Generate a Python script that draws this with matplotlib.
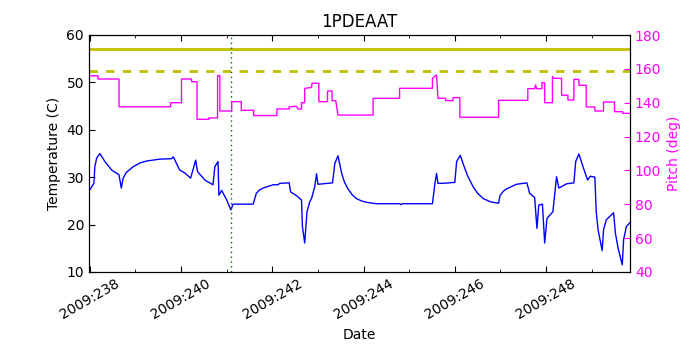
import numpy as np
import matplotlib
matplotlib.use('Agg')
import matplotlib.pyplot as plt
from matplotlib.ticker import MultipleLocator, FuncFormatter

# Time axis is day-of-year 2009 (fractional)
msid = '1PDEAAT'
year = 2009

temp_days = [237.97, 238.09, 238.11, 238.15, 238.22, 238.33, 238.48, 238.64,
             238.69, 238.73, 238.80, 238.95, 239.10, 239.24, 239.53, 239.79,
             239.83, 239.97, 240.08, 240.21, 240.32, 240.36, 240.52, 240.70,
             240.74, 240.81, 240.83, 240.89, 241.00, 241.09, 241.14, 241.58,
             241.65, 241.72, 241.80, 242.02, 242.13, 242.16, 242.37, 242.40,
             242.53, 242.64, 242.66, 242.71, 242.76, 242.82, 242.86, 242.93,
             242.97, 243.00, 243.11, 243.32, 243.37, 243.44, 243.52, 243.58,
             243.66, 243.75, 243.84, 243.95, 244.06, 244.28, 244.79, 244.82,
             244.85, 245.51, 245.56, 245.60, 245.63, 245.74, 246.00, 246.04,
             246.12, 246.18, 246.28, 246.40, 246.50, 246.62, 246.78, 246.96,
             246.99, 247.06, 247.13, 247.35, 247.58, 247.64, 247.75, 247.80,
             247.84, 247.92, 247.97, 248.02, 248.15, 248.23, 248.28, 248.45,
             248.61, 248.65, 248.72, 248.81, 248.91, 248.97, 249.07, 249.10,
             249.14, 249.23, 249.26, 249.32, 249.48, 249.52, 249.58, 249.67,
             249.70, 249.76, 249.84]
temp_vals = [26.9, 28.7, 32.2, 34.0, 35.0, 33.3, 31.5, 30.5,
             27.7, 29.8, 31.0, 32.2, 33.0, 33.4, 33.8, 33.9,
             34.3, 31.5, 30.9, 29.8, 33.6, 31.2, 29.4, 28.4,
             32.2, 33.3, 26.2, 27.2, 25.2, 23.1, 24.3, 24.3,
             26.6, 27.3, 27.7, 28.4, 28.4, 28.7, 28.8, 26.9,
             26.1, 25.2, 19.6, 16.1, 22.7, 24.8, 25.5, 28.0,
             30.7, 28.5, 28.6, 28.8, 32.9, 34.5, 30.8, 29.0,
             27.5, 26.3, 25.5, 25.0, 24.7, 24.4, 24.4, 24.2,
             24.4, 24.4, 28.4, 30.8, 28.7, 28.7, 28.9, 33.3,
             34.6, 32.9, 30.3, 28.0, 26.6, 25.5, 24.8, 24.5,
             26.1, 27.0, 27.5, 28.5, 28.8, 26.6, 25.7, 19.2,
             24.1, 24.3, 16.1, 21.3, 22.7, 30.1, 27.7, 28.6,
             28.8, 33.3, 34.9, 32.2, 29.4, 30.2, 30.0, 22.7,
             18.9, 14.5, 18.9, 21.0, 22.5, 18.2, 15.0, 11.5,
             16.8, 19.6, 20.4]

pitch_days = [237.97, 238.18, 238.18, 238.64, 238.64, 239.77, 239.77, 240.01,
              240.01, 240.23, 240.23, 240.35, 240.35, 240.61, 240.61, 240.80,
              240.80, 240.85, 240.85, 241.11, 241.11, 241.32, 241.32, 241.59,
              241.59, 242.10, 242.10, 242.37, 242.37, 242.53, 242.56, 242.64,
              242.64, 242.71, 242.71, 242.86, 242.87, 243.02, 243.02, 243.21,
              243.21, 243.31, 243.31, 243.39, 243.44, 244.21, 244.21, 244.79,
              244.79, 245.51, 245.51, 245.60, 245.63, 245.80, 245.80, 245.96,
              245.96, 246.11, 246.11, 246.96, 246.96, 247.60, 247.60, 247.75,
              247.77, 247.79, 247.91, 247.91, 247.97, 247.97, 248.14, 248.14,
              248.17, 248.34, 248.34, 248.48, 248.48, 248.61, 248.61, 248.72,
              248.72, 248.88, 248.88, 249.07, 249.07, 249.26, 249.26, 249.50,
              249.50, 249.68, 249.68, 249.84]
pitch_vals = [155.9, 155.9, 154.0, 154.0, 137.6, 137.6, 140.0, 140.0,
              154.0, 154.0, 152.4, 152.4, 130.2, 130.2, 131.0, 131.0,
              156.0, 156.0, 135.1, 135.1, 140.6, 140.6, 135.5, 135.5,
              132.4, 132.4, 136.3, 136.3, 137.6, 137.9, 136.3, 136.3,
              140.0, 140.0, 148.5, 149.0, 151.5, 151.5, 140.6, 140.6,
              146.9, 146.9, 141.2, 141.2, 132.7, 132.7, 142.6, 142.6,
              148.5, 148.5, 154.4, 156.4, 142.6, 142.6, 141.2, 141.2,
              143.0, 143.0, 131.4, 131.4, 141.4, 141.4, 148.3, 148.3,
              150.5, 148.3, 148.3, 151.8, 151.8, 140.0, 140.0, 155.4,
              154.4, 154.4, 144.4, 144.4, 141.6, 141.6, 153.8, 153.8,
              150.3, 150.3, 137.5, 137.5, 135.1, 135.1, 140.4, 140.4,
              134.7, 134.7, 133.7, 133.7]

planning_limit = 52.5
caution_limit = 57.0
now_day = 241.09

fig = plt.figure(figsize=(7, 3.5), dpi=100)
ax = fig.add_axes([0.127, 0.223, 0.773, 0.677])

ax.axhline(caution_limit, color=(0.75, 0.75, 0), linewidth=2)
ax.axhline(planning_limit, color=(0.75, 0.75, 0), linewidth=2,
           linestyle=(0, (3, 3)))
ax.plot(temp_days, temp_vals, color='b', linewidth=1)
ax.axvline(now_day, color='#006400', linestyle=(0, (1, 2.5)), linewidth=1)

ax.set_xlim(237.98, 249.84)
ax.set_ylim(10, 60)
ax.xaxis.set_major_locator(MultipleLocator(2))
ax.xaxis.set_minor_locator(MultipleLocator(1))
ax.xaxis.set_major_formatter(FuncFormatter(lambda d, pos: '%d:%03d' % (year, round(d))))
ax.tick_params(axis='both', which='both', direction='in', labelsize=10)
ax.tick_params(axis='x', which='both', top=True)
ax.tick_params(which='major', length=4)
ax.tick_params(which='minor', length=2)
for lbl in ax.get_xticklabels():
    lbl.set_rotation(30)
    lbl.set_ha('center')
ax.set_xlabel('Date', fontsize=10)
ax.set_ylabel('Temperature (C)', fontsize=10)
ax.set_title(msid, fontsize=12)

ax2 = ax.twinx()
ax2.plot(pitch_days, pitch_vals, color='#ff00ff', linewidth=1)
ax2.set_ylim(40, 180)
ax2.set_xlim(237.98, 249.84)
ax2.tick_params(axis='y', direction='in', length=4, labelsize=10,
                colors='#ff00ff')
ax2.spines['right'].set_color('k')
ax2.set_ylabel('Pitch (deg)', color='#ff00ff', fontsize=10)

fig.savefig('out.png', dpi=100)
